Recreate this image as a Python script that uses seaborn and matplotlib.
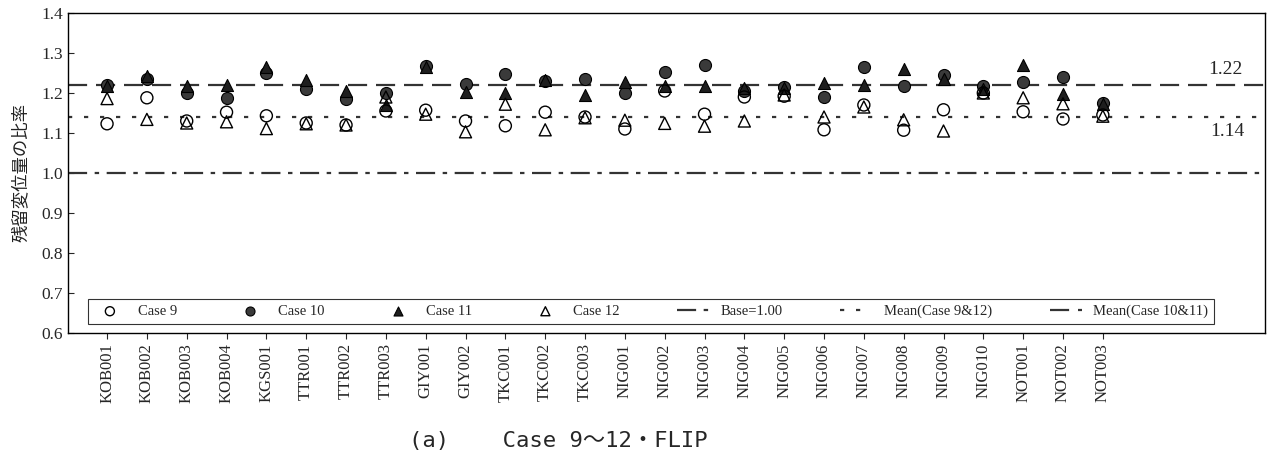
import matplotlib
matplotlib.use("Agg")
import matplotlib.pyplot as plt
import seaborn as sns
import pandas as pd

sites = ["KOB001", "KOB002", "KOB003", "KOB004", "KGS001", "TTR001", "TTR002", "TTR003",
         "GIY001", "GIY002", "TKC001", "TKC002", "TKC003", "NIG001", "NIG002", "NIG003",
         "NIG004", "NIG005", "NIG006", "NIG007", "NIG008", "NIG009", "NIG010", "NOT001",
         "NOT002", "NOT003"]

case9 = [1.123, 1.188, 1.130, 1.152, 1.143, 1.125, 1.120, 1.155, 1.157, 1.130, 1.118, 1.152, 1.140,
         1.110, 1.205, 1.147, 1.190, 1.192, 1.108, 1.170, 1.107, 1.158, 1.200, 1.153, 1.135, 1.145]
case10 = [1.220, 1.234, 1.200, 1.188, 1.250, 1.210, 1.184, 1.200, 1.267, 1.222, 1.248, 1.230, 1.235,
          1.200, 1.253, 1.270, 1.205, 1.214, 1.190, 1.265, 1.218, 1.245, 1.218, 1.228, 1.240, 1.175]
case11 = [1.218, 1.243, 1.217, 1.220, 1.266, 1.232, 1.205, 1.170, 1.265, 1.203, 1.200, 1.232, 1.195,
          1.227, 1.218, 1.218, 1.212, 1.212, 1.225, 1.220, 1.260, 1.235, 1.210, 1.270, 1.197, 1.172]
case12 = [1.186, 1.134, 1.125, 1.128, 1.111, 1.123, 1.120, 1.190, 1.147, 1.103, 1.172, 1.108, 1.138,
          1.132, 1.124, 1.117, 1.130, 1.195, 1.140, 1.165, 1.133, 1.105, 1.200, 1.188, 1.173, 1.142]

base_value = 1.00
mean_9_12 = 1.14
mean_10_11 = 1.22

yticks = [0.6, 0.7, 0.8, 0.9, 1.0, 1.1, 1.2, 1.3, 1.4]

sns.set_style("ticks")
plt.rcParams["font.family"] = ["Liberation Serif", "Noto Sans CJK JP"]

df = pd.DataFrame({"site": sites, "c9": case9, "c10": case10, "c11": case11, "c12": case12})

fig = plt.figure(figsize=(12.69, 4.57), dpi=100)
ax = fig.add_axes([0.0536, 0.2713, 0.9432, 0.7003])

ms = 75
sns.scatterplot(data=df, x="site", y="c9", ax=ax, marker="o", s=ms, facecolors="none",
                edgecolor="black", linewidth=1.0, label="Case 9", zorder=5)
sns.scatterplot(data=df, x="site", y="c10", ax=ax, marker="o", s=ms, color="#3a3a3a",
                edgecolor="black", linewidth=0.8, label="Case 10", zorder=4)
sns.scatterplot(data=df, x="site", y="c11", ax=ax, marker="^", s=ms, color="#1e1e1e",
                edgecolor="black", linewidth=0.8, label="Case 11", zorder=4)
sns.scatterplot(data=df, x="site", y="c12", ax=ax, marker="^", s=ms, facecolors="none",
                edgecolor="black", linewidth=1.0, label="Case 12", zorder=5)

lw = 1.6
ax.axhline(base_value, color="#333333", lw=lw, dashes=(8.6, 3.4, 2.0, 3.4), label="Base=1.00", zorder=2)
ax.axhline(mean_9_12, color="#333333", lw=lw, dashes=(1.9, 5.3), label="Mean(Case 9&12)", zorder=2)
ax.axhline(mean_10_11, color="#333333", lw=lw, dashes=(8.6, 4.0), label="Mean(Case 10&11)", zorder=2)

ax.text(28.5, 1.237, "1.22", fontsize=14, ha="right", va="bottom")
ax.text(28.55, 1.125, "1.14", fontsize=14, ha="right", va="top")

ax.set_xlim(-0.98, 29.07)
ax.set_ylim(0.6, 1.4)
ax.set_yticks(yticks)
ax.set_yticklabels([f"{v:.1f}" for v in yticks], fontsize=12.5)
ax.tick_params(axis="x", labelrotation=90, labelsize=12, length=4, direction="out")
ax.tick_params(axis="y", length=4, direction="in")
ax.set_xlabel("")
ax.set_ylabel("残留変位量の比率", fontsize=12.5, family=["Noto Sans CJK JP"], labelpad=8,
              color="#222222")
for sp in ax.spines.values():
    sp.set_visible(True)
    sp.set_linewidth(1.0)
    sp.set_color("black")

leg = ax.legend(loc="lower left", bbox_to_anchor=(0.0167, 0.028, 0.941, 0.106), mode="expand",
                ncol=7, frameon=True, fancybox=False, fontsize=10.5, handlelength=2.2,
                borderaxespad=0, markerscale=0.75)
leg.get_frame().set_edgecolor("black")
leg.get_frame().set_linewidth(0.8)

fig.text(0.44, 0.035, "(a)    Case 9～12・FLIP", fontsize=16, ha="center", va="center",
         family=["DejaVu Sans Mono", "Noto Sans CJK JP"])

fig.savefig("out.png", dpi=100)
